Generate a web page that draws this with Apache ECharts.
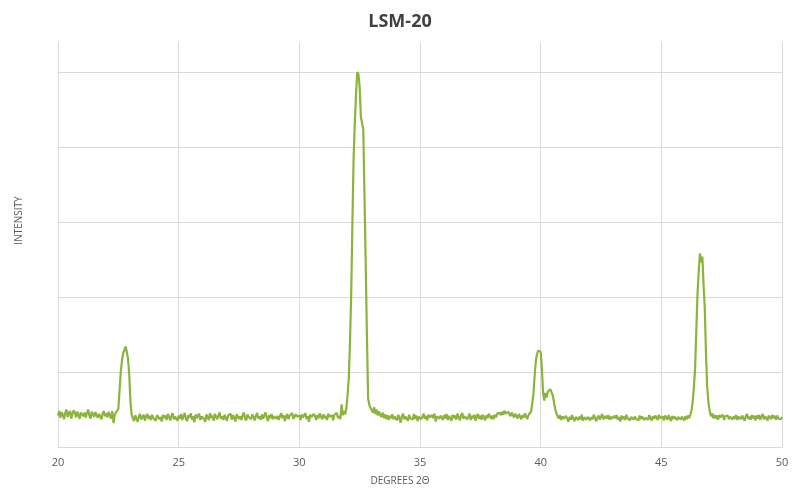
<!DOCTYPE html>
<html>
<head>
<meta charset="utf-8">
<script src="https://cdn.jsdelivr.net/npm/echarts@6/dist/echarts.min.js"></script>
<style>html,body{margin:0;padding:0;background:#fff}#c{width:800px;height:495px}</style>
</head>
<body>
<div id="c"></div>
<script>
// 2θ from 20.00 to 50.00 in steps of 0.05 degrees
const thetaStart = 20, thetaStep = 0.05;
const xTicks = [20, 25, 30, 35, 40, 45, 50];
// intensity, one row per degree (20 samples each)
const deg20 = [420,480,390,465,430,370,455,500,400,450,480,380,440,490,455,395,470,430,375,460];
const deg21 = [485,410,460,395,450,500,415,380,470,435,400,465,490,390,440,455,370,445,480,410];
const deg22 = [450,395,470,420,380,480,320,425,460,450,510,750,1000,1150,1250,1290,1340,1270,1180,980];
const deg23 = [610,430,385,345,425,380,335,410,440,365,400,430,350,410,440,375,415,360,430,385];
const deg24 = [410,350,425,445,370,400,340,430,385,420,360,440,400,355,415,450,370,405,430,350];
const deg25 = [420,380,440,360,405,455,375,345,425,395,450,365,410,330,435,385,415,445,360,405];
const deg26 = [430,375,335,435,410,360,450,385,420,350,440,400,370,425,460,375,410,360,430,390];
const deg27 = [350,420,395,445,365,425,390,340,435,450,375,410,360,420,460,385,355,435,400,425];
const deg28 = [370,435,400,355,415,455,380,410,360,435,380,420,460,395,345,425,385,440,370,410];
const deg29 = [435,375,415,360,410,450,385,425,345,405,440,370,415,395,455,375,350,435,405,385];
const deg30 = [420,360,435,395,385,450,370,415,335,430,400,375,440,410,360,425,385,450,400,370];
const deg31 = [435,385,415,360,445,400,375,425,355,430,405,455,385,415,370,570,425,480,435,520];
const deg32 = [700,920,1400,2050,3000,3870,4330,4700,5000,4970,4800,4400,4320,4230,3350,2450,1500,650,560,520];
const deg33 = [520,460,530,440,500,420,475,430,400,460,385,435,375,425,360,415,385,435,370,405];
const deg34 = [420,355,430,385,325,410,445,370,405,425,350,430,385,410,365,440,375,420,345,405];
const deg35 = [430,370,400,445,375,415,355,430,395,370,425,385,445,340,410,430,375,420,400,360];
const deg36 = [425,380,440,360,415,400,350,430,385,420,365,445,400,355,420,455,375,410,430,370];
const deg37 = [400,445,360,415,385,430,350,410,440,375,420,365,430,395,355,425,385,445,410,375];
const deg38 = [420,370,430,395,445,420,455,425,470,430,485,445,420,470,440,410,460,425,395,445];
const deg39 = [425,380,440,405,370,425,395,450,405,375,430,415,470,580,700,950,1150,1240,1285,1300];
const deg40 = [1270,1050,720,620,720,660,740,730,770,760,690,600,510,450,410,380,425,360,410,375];
const deg41 = [355,415,375,335,405,365,425,380,345,400,420,360,405,370,430,350,395,415,365,400];
const deg42 = [420,355,400,370,430,395,345,390,420,365,405,440,370,355,415,380,425,365,405,375];
const deg43 = [355,415,385,425,365,400,340,420,375,405,360,430,385,410,355,400,420,365,405,375];
const deg44 = [400,355,420,375,405,430,360,390,415,365,425,385,355,410,375,420,395,360,430,385];
const deg45 = [375,410,355,420,395,365,425,385,345,415,375,405,430,360,400,420,365,405,385,355];
const deg46 = [410,370,420,385,430,490,600,800,1050,1560,2050,2350,2580,2460,2540,2160,1850,1250,800,600];
const deg47 = [490,410,450,385,430,380,420,365,425,395,375,430,360,410,385,420,370,405,430,365];
const deg48 = [410,375,425,360,405,430,370,420,385,350,410,440,375,405,365,425,385,415,355,420];
const deg49 = [380,425,365,405,440,370,410,385,355,420,400,370,430,385,415,365,420,380,405,370];
const deg50 = [400];

const intensity = [].concat(deg20,deg21,deg22,deg23,deg24,deg25,deg26,deg27,deg28,deg29,
  deg30,deg31,deg32,deg33,deg34,deg35,deg36,deg37,deg38,deg39,
  deg40,deg41,deg42,deg43,deg44,deg45,deg46,deg47,deg48,deg49,deg50);
const points = intensity.map((v, i) => [+(thetaStart + i * thetaStep).toFixed(2), v]);

const chart = echarts.init(document.getElementById('c'), null, {renderer: 'canvas'});
const font = "'Open Sans', 'Noto Sans', sans-serif";
chart.setOption({
  animation: false,
  backgroundColor: '#ffffff',
  title: {
    text: 'LSM-20', left: 'center', top: 8,
    textStyle: {fontFamily: font, fontSize: 18, fontWeight: 'bold', color: '#404040'}
  },
  grid: {left: 58, right: 18, top: 42, bottom: 48, containLabel: false},
  xAxis: {
    type: 'value', min: 20, max: 50, interval: 5,
    name: 'DEGREES 2Θ', nameLocation: 'middle', nameGap: 29,
    nameTextStyle: {fontFamily: font, fontSize: 10, color: '#595959', padding: [0, 40, 0, 0]},
    axisLine: {show: true, lineStyle: {color: '#d9d9d9', width: 1}},
    axisTick: {show: false},
    axisLabel: {fontFamily: font, fontSize: 11, color: '#595959', margin: 10,
      formatter: v => xTicks.includes(v) ? String(v) : ''},
    splitLine: {show: true, lineStyle: {color: '#d9d9d9', width: 1}}
  },
  yAxis: {
    type: 'value', min: 0, max: 5400, interval: 1000,
    name: 'INTENSITY', nameLocation: 'middle', nameGap: 34, nameRotate: 90,
    nameTextStyle: {fontFamily: font, fontSize: 10, color: '#595959', padding: [0, 0, 0, 48]},
    axisLine: {show: false}, axisTick: {show: false}, axisLabel: {show: false},
    splitLine: {show: true, showMaxLine: false, lineStyle: {color: '#d9d9d9', width: 1}}
  },
  series: [{
    type: 'line', data: points, showSymbol: false, symbol: 'none', sampling: 'none',
    lineStyle: {color: '#8cb43c', width: 2.2}, smooth: false
  }]
});
</script>
</body>
</html>
